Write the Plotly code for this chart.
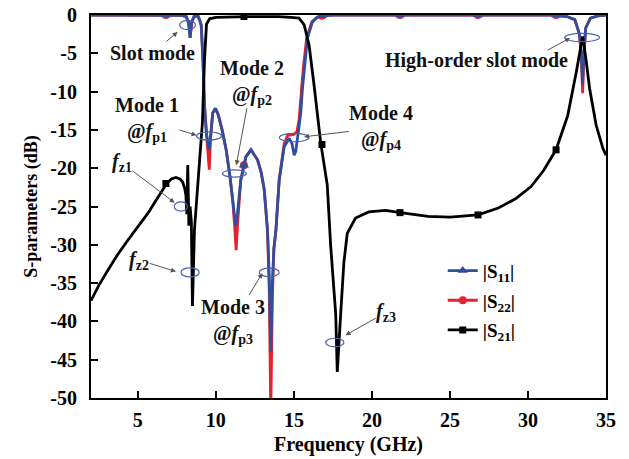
import plotly.graph_objects as go

# ---------------- data ----------------
s11_f = [2.0, 6.8, 7.8, 8.1, 8.25, 8.35, 8.45, 8.6, 8.85, 8.95, 9.06, 9.16, 9.27, 9.4, 9.5, 9.58,
         9.68, 9.8, 9.97, 10.15, 10.4, 10.66, 10.9, 11.08, 11.2, 11.27, 11.38, 11.6, 11.93, 12.25,
         12.67, 12.9, 13.1, 13.31, 13.42, 13.52, 13.62, 13.72, 13.85, 14.06, 14.38, 14.7, 14.88,
         15.02, 15.12, 15.23, 15.44, 15.55, 15.65, 15.87, 16.19, 16.5, 16.8, 17.5, 31.5, 32.5,
         33.0, 33.3, 33.42, 33.5, 33.58, 33.7, 34.0, 34.5, 35.0]
s11_db = [0, 0, -0.05, -0.2, -1.0, -3.0, -1.0, -0.2, -0.1, -0.6, -1.3, -5.2, -11.7, -15.5, -17.0, -17.6,
          -15.5, -12.8, -12.2, -13.0, -15.0, -17.6, -21.0, -24.2, -26.5, -27.5, -26.0, -21.5, -18.5, -17.6,
          -18.9, -20.5, -22.8, -28.1, -34.0, -44.0, -35.0, -30.5, -28.1, -21.5, -17.2, -16.1, -16.8,
          -18.3, -17.8, -16.3, -12.8, -9.6, -7.5, -3.0, -0.9, -0.3, -0.1, 0, 0, -0.2,
          -0.6, -2.5, -5.2, -9.1, -5.2, -1.7, -0.4, -0.1, 0]

s22_f = [2.0, 7.8, 8.1, 8.25, 8.35, 8.45, 8.6, 8.85, 8.95, 9.06, 9.16, 9.27, 9.4, 9.5, 9.58, 9.66,
         9.8, 9.97, 10.15, 10.4, 10.66, 10.9, 11.08, 11.2, 11.3, 11.4, 11.6, 11.93, 12.25, 12.67,
         12.9, 13.1, 13.31, 13.42, 13.52, 13.62, 13.72, 13.85, 14.06, 14.38, 14.6, 15.0, 15.2,
         15.33, 15.5, 15.6, 15.82, 16.15, 16.5, 16.8, 17.5, 31.5, 32.5, 33.0, 33.3, 33.42, 33.5,
         33.58, 33.7, 34.0, 34.5, 35.0]
s22_db = [0, -0.05, -0.2, -1.0, -3.0, -1.0, -0.2, -0.1, -0.6, -1.3, -5.2, -11.7, -15.5, -17.6, -20.2, -16.0,
          -12.8, -12.2, -13.0, -15.0, -17.6, -21.0, -24.2, -27.5, -30.7, -27.0, -21.5, -18.5, -17.6, -18.9,
          -20.5, -22.8, -28.1, -36.0, -52.0, -37.0, -30.5, -28.1, -21.5, -16.8, -15.7, -15.6, -15.2,
          -13.7, -9.6, -7.0, -3.0, -0.9, -0.3, -0.1, 0, 0, -0.2, -0.6, -2.5, -5.5, -10.2,
          -5.5, -1.7, -0.4, -0.1, 0]

s21_f = [2.0, 2.5, 3.09, 3.7, 4.36, 5.0, 5.64, 6.1, 6.48, 6.85, 7.15, 7.44, 7.7, 7.87, 8.0, 8.08,
         8.14, 8.2, 8.27, 8.35, 8.43, 8.5, 8.63, 8.9, 9.14, 9.27, 9.4, 9.6, 10.0, 12.0, 14.0, 14.8,
         15.33, 15.66, 15.97, 16.29, 16.72, 17.14, 17.36, 17.68, 17.78, 18.0, 18.2, 18.42, 18.95,
         19.8, 20.87, 21.82, 23.6, 25.0, 26.8, 28.1, 29.2, 30.2, 31.0, 31.8, 32.55, 33.1, 33.4,
         33.5, 33.7, 33.95, 34.37, 34.8, 35.0]
s21_db = [-37.3, -35.3, -33.3, -31.3, -29.4, -27.6, -25.9, -24.4, -23.1, -22.0, -21.4, -21.2, -21.4, -21.8, -22.6, -23.5,
          -26.0, -19.6, -27.5, -25.0, -27.0, -38.0, -28.0, -20.0, -14.0, -6.0, -1.2, -0.5, -0.3, -0.2, -0.2, -0.3,
          -0.4, -1.3, -3.9, -9.1, -16.7, -22.2, -30.2, -39.0, -46.6, -39.0, -32.4, -28.5, -26.5,
          -25.7, -25.5, -25.8, -26.3, -26.4, -26.1, -25.2, -24.0, -22.4, -20.3, -17.6, -13.1, -7.4, -3.5,
          -2.8, -5.5, -9.6, -14.4, -17.4, -18.3]

# marker positions (every 5 GHz)
mk_f = [6.8, 11.8, 16.8, 21.8, 26.8, 31.8]
s11_mk_db = [0, -19.6, -0.1, 0, 0, 0]
s22_mk_db = [0, -19.6, -0.1, 0, 0, 0]
s21_mk_db = [-22.0, -0.2, -16.9, -25.8, -26.1, -17.6]

x_ticks = [5, 10, 15, 20, 25, 30, 35]
y_ticks = [0, -5, -10, -15, -20, -25, -30, -35, -40, -45, -50]

# labels with arrows: (text, text_f, text_db, tip_f, tip_db)
labels = [
    ("Slot mode", 5.95, -4.96, 7.55, -2.22),
    ("Mode 1<br>@<i>f</i><sub>p1</sub>", 5.6, -13.7, 8.76, -15.7),
    ("Mode 2<br>@<i>f</i><sub>p2</sub>", 12.3, -8.8, 11.31, -19.6),
    ("<i>f</i><sub>z1</sub>", 3.98, -19.3, 7.36, -24.5),
    ("<i>f</i><sub>z2</sub>", 5.1, -32.0, 7.44, -33.5),
    ("Mode 3<br>@<i>f</i><sub>p3</sub>", 11.12, -39.95, 12.98, -33.7),
    ("Mode 4<br>@<i>f</i><sub>p4</sub>", 20.6, -14.7, 15.65, -15.9),
    ("<i>f</i><sub>z3</sub>", 20.92, -38.8, 18.31, -41.8),
]
ho_label = ("High-order slot mode", 26.7, -5.9)
ho_arrow = (31.16, -4.7, 32.7, -3.0)

# ellipses: (center_f, center_db, width_GHz, height_dB)
ellipses = [
    (8.19, -1.3, 1.02, 1.2),
    (9.56, -15.8, 1.6, 1.05),
    (11.19, -20.7, 1.53, 0.95),
    (7.76, -25.0, 0.85, 1.2),
    (8.35, -33.6, 1.17, 1.2),
    (13.42, -33.6, 1.28, 1.1),
    (15.02, -16.0, 1.9, 1.1),
    (17.62, -42.75, 1.17, 1.1),
    (33.47, -2.94, 2.23, 1.1),
]

BLUE = "#2F4E9E"
RED = "#E8212B"
BLACK = "#000000"
FONT = "Liberation Serif"
ARROW = "#555555"


def gapped(xs, ys):
    gx, gy = [], []
    for a, b in zip(xs, ys):
        gx += [a, None]
        gy += [b, None]
    return gx, gy


fig = go.Figure()

series = [
    ("|S<sub>22</sub>|", s22_f, s22_db, s22_mk_db, RED, "circle", 8, 2),
    ("|S<sub>11</sub>|", s11_f, s11_db, s11_mk_db, BLUE, "triangle-up", 9, 1),
    ("|S<sub>21</sub>|", s21_f, s21_db, s21_mk_db, BLACK, "square", 7, 3),
]
for name, fx, fy, mky, col, sym, ms, rank in series:
    fig.add_trace(go.Scatter(x=fx, y=fy, mode="lines", line=dict(color=col, width=2.8),
                             showlegend=False, hoverinfo="skip"))
    gx, gy = gapped(mk_f, mky)
    fig.add_trace(go.Scatter(x=gx, y=gy, mode="lines+markers", name=name,
                             line=dict(color=col, width=2.8), connectgaps=False,
                             marker=dict(symbol=sym, size=ms, color=col),
                             legendgroup=name, legendrank=rank))

lab_font = dict(family=FONT, size=20, color="#111111", weight="bold")
for txt, tf, tdb, hf, hdb in labels:
    fig.add_annotation(x=hf, y=hdb, ax=tf, ay=tdb, axref="x", ayref="y", text=txt,
                       showarrow=True, arrowhead=2, arrowsize=1, arrowwidth=1,
                       arrowcolor=ARROW, font=lab_font, align="center", borderpad=0)

fig.add_annotation(x=ho_label[1], y=ho_label[2], text=ho_label[0], showarrow=False, font=lab_font)
fig.add_annotation(x=ho_arrow[2], y=ho_arrow[3], ax=ho_arrow[0], ay=ho_arrow[1], axref="x", ayref="y",
                   text="", showarrow=True, arrowhead=2, arrowsize=1, arrowwidth=1, arrowcolor=ARROW)

for cf, cdb, w, h in ellipses:
    fig.add_shape(type="circle", xref="x", yref="y", x0=cf - w / 2, x1=cf + w / 2,
                  y0=cdb - h / 2, y1=cdb + h / 2, line=dict(color="#4A64AE", width=1.2))

fig.update_layout(
    width=629, height=459,
    margin=dict(l=91, r=23, t=15, b=61),
    paper_bgcolor="white", plot_bgcolor="white",
    font=dict(family=FONT, size=20, color="black", weight="bold"),
    legend=dict(x=0.683, y=0.382, xanchor="left", yanchor="top", traceorder="grouped",
                tracegroupgap=2, bgcolor="rgba(0,0,0,0)",
                font=dict(family=FONT, size=19, weight="bold")),
    xaxis=dict(range=[2, 35], tickvals=x_ticks, ticktext=[str(v) for v in x_ticks],
               ticks="inside", ticklen=7, tickwidth=2, tickcolor="black",
               showline=True, linecolor="black", linewidth=2, mirror=True,
               showgrid=False, zeroline=False, ticklabelstandoff=3, automargin=False,
               title=dict(text="Frequency (GHz)", standoff=7,
                          font=dict(family=FONT, size=20, weight="bold"))),
    yaxis=dict(range=[-50, 0], tickvals=y_ticks, ticktext=[str(v) for v in y_ticks],
               ticks="inside", ticklen=7, tickwidth=2, tickcolor="black",
               showline=True, linecolor="black", linewidth=2, mirror=True,
               showgrid=False, zeroline=False, ticklabelstandoff=8, automargin=False,
               title=dict(text="S-parameters (dB)", standoff=8,
                          font=dict(family=FONT, size=18, weight="bold"))),
)

fig.write_html("out.html")
